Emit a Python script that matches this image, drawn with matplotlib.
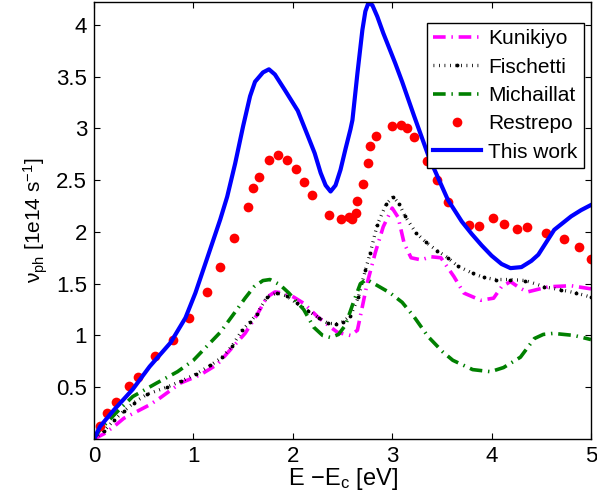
import matplotlib
matplotlib.use("Agg")
import matplotlib.pyplot as plt
import numpy as np

plt.rcParams['font.family'] = ['Liberation Sans', 'DejaVu Sans']
plt.rcParams['mathtext.default'] = 'regular'

# Kunikiyo (magenta dash-dot)
kun_x = [0, 0.1, 0.2, 0.3, 0.46, 0.56, 0.67, 0.87, 1.07, 1.24, 1.37, 1.52, 1.64, 1.74, 1.82,
         1.91, 2.01, 2.11, 2.25, 2.38, 2.45, 2.58, 2.65, 2.70, 2.75, 2.83, 2.91, 3.00, 3.06,
         3.12, 3.19, 3.29, 3.39, 3.49, 3.62, 3.72, 3.89, 4.02, 4.10, 4.19, 4.28, 4.36, 4.57,
         4.80, 5.0]
kun_y = [0, 0.05, 0.12, 0.20, 0.28, 0.33, 0.40, 0.54, 0.62, 0.72, 0.86, 1.02, 1.20, 1.37, 1.42,
         1.41, 1.37, 1.31, 1.18, 1.08, 1.03, 1.00, 1.05, 1.28, 1.51, 1.80, 2.05, 2.23, 2.14,
         1.89, 1.75, 1.73, 1.76, 1.75, 1.57, 1.41, 1.34, 1.36, 1.47, 1.52, 1.46, 1.42, 1.47,
         1.48, 1.45]

# Fischetti (black dotted with dots)
fis_x = [0, 0.1, 0.2, 0.3, 0.4, 0.53, 0.73, 0.88, 1.03, 1.17, 1.29, 1.39, 1.49, 1.57, 1.64,
         1.74, 1.84, 1.94, 2.04, 2.15, 2.26, 2.35, 2.43, 2.50, 2.58, 2.66, 2.73, 2.78, 2.85,
         2.94, 3.01, 3.07, 3.13, 3.24, 3.34, 3.45, 3.56, 3.66, 3.81, 3.92, 4.04, 4.19, 4.34,
         4.53, 4.70, 4.85, 5.0]
fis_y = [0, 0.08, 0.18, 0.27, 0.35, 0.43, 0.50, 0.56, 0.63, 0.71, 0.79, 0.90, 1.05, 1.13, 1.21,
         1.37, 1.41, 1.38, 1.31, 1.24, 1.17, 1.12, 1.11, 1.13, 1.19, 1.37, 1.63, 1.80, 2.07,
         2.27, 2.34, 2.27, 2.15, 1.99, 1.90, 1.82, 1.75, 1.67, 1.60, 1.56, 1.54, 1.54, 1.53,
         1.47, 1.44, 1.41, 1.37]

# Michaillat (green dash-dot)
mic_x = [0, 0.06, 0.23, 0.39, 0.63, 0.84, 1.0, 1.12, 1.27, 1.40, 1.52, 1.61, 1.70, 1.77, 1.87,
         1.96, 2.11, 2.21, 2.30, 2.38, 2.46, 2.53, 2.61, 2.68, 2.74, 2.80, 2.98, 3.10, 3.22,
         3.36, 3.51, 3.61, 3.81, 3.99, 4.12, 4.29, 4.43, 4.52, 4.62, 4.83, 5.0]
mic_y = [0, 0.09, 0.26, 0.41, 0.54, 0.65, 0.76, 0.88, 1.03, 1.20, 1.36, 1.47, 1.53, 1.54, 1.49,
         1.41, 1.25, 1.08, 1.00, 0.98, 1.01, 1.10, 1.32, 1.50, 1.54, 1.51, 1.41, 1.32, 1.18,
         0.99, 0.84, 0.76, 0.67, 0.65, 0.69, 0.79, 0.97, 1.01, 1.02, 1.00, 0.96]

# Restrepo (red dots)
res_x = [0.06, 0.13, 0.22, 0.35, 0.44, 0.61, 0.79, 0.96, 1.14, 1.27, 1.41, 1.55, 1.60, 1.66,
         1.76, 1.85, 1.94, 2.03, 2.11, 2.19, 2.36, 2.48, 2.57, 2.60, 2.64, 2.65, 2.71, 2.76,
         2.78, 2.84, 3.00, 3.09, 3.15, 3.22, 3.35, 3.45, 3.56, 3.77, 3.87, 4.01, 4.12, 4.26,
         4.36, 4.55, 4.73, 4.88, 5.0]
res_y = [0.13, 0.25, 0.36, 0.51, 0.60, 0.80, 0.96, 1.17, 1.42, 1.66, 1.94, 2.24, 2.42, 2.53,
         2.69, 2.74, 2.69, 2.61, 2.48, 2.36, 2.16, 2.12, 2.14, 2.12, 2.18, 2.30, 2.46, 2.67,
         2.83, 2.93, 3.02, 3.03, 3.00, 2.92, 2.68, 2.50, 2.29, 2.07, 2.06, 2.13, 2.08, 2.03,
         2.05, 1.99, 1.93, 1.85, 1.74]

# This work (blue solid)
tw_x = [0, 0.06, 0.2, 0.39, 0.56, 0.77, 0.92, 1.02, 1.14, 1.27, 1.34, 1.42, 1.50, 1.57, 1.62,
        1.70, 1.76, 1.82, 1.92, 2.05, 2.15, 2.22, 2.28, 2.33, 2.38, 2.43, 2.48, 2.53, 2.58,
        2.60, 2.65, 2.70, 2.73, 2.76, 2.80, 2.85, 2.91, 3.03, 3.10, 3.22, 3.37, 3.56, 3.70,
        3.80, 3.90, 4.00, 4.10, 4.19, 4.30, 4.40, 4.47, 4.55, 4.63, 4.80, 4.90, 5.0]
tw_y = [0, 0.12, 0.28, 0.48, 0.70, 0.93, 1.17, 1.41, 1.75, 2.12, 2.34, 2.66, 3.02, 3.31, 3.45,
        3.54, 3.57, 3.52, 3.37, 3.17, 2.93, 2.76, 2.57, 2.45, 2.39, 2.45, 2.60, 2.80, 2.99,
        3.08, 3.53, 3.95, 4.13, 4.21, 4.19, 4.08, 3.92, 3.63, 3.45, 3.12, 2.72, 2.31, 2.10,
        1.98, 1.87, 1.77, 1.69, 1.65, 1.66, 1.72, 1.78, 1.90, 2.02, 2.15, 2.21, 2.26]

fig = plt.figure(figsize=(5.97, 4.99), dpi=100)
ax = fig.add_axes([94/597, 60/499, 497/597, 437/499])

ax.plot(kun_x, kun_y, color=(1, 0, 1), lw=2.6, linestyle=(0, (3.5, 1.6, 0.4, 1.6)), label='Kunikiyo')
ax.plot(fis_x, fis_y, color='k', lw=2.4, linestyle=(0, (0.25, 1.4)), marker='.', markersize=3.5,
        label='Fischetti')
ax.plot(mic_x, mic_y, color=(0, 0.5, 0), lw=2.6, linestyle=(0, (3.5, 1.6, 0.4, 1.6)), label='Michaillat')
ax.plot(res_x, res_y, 'o', color='r', markersize=7, markeredgewidth=0, label='Restrepo')
ax.plot(tw_x, tw_y, color='b', lw=3, label='This work')

ax.set_xlim(0, 5)
ax.set_ylim(0, 4.22)
ax.set_xticks(np.arange(0, 6, 1))
ax.set_yticks([0.5, 1, 1.5, 2, 2.5, 3, 3.5, 4])
ax.set_yticklabels(['0.5', '1', '1.5', '2', '2.5', '3', '3.5', '4'])
ax.tick_params(direction='in', top=True, right=True, length=4, width=0.8, labelsize=16, pad=5)
for s in ax.spines.values():
    s.set_linewidth(1.0)

ax.set_xlabel('E \u2212E$_c$ [eV]', fontsize=17, labelpad=-1)
ax.set_ylabel('\u03bd$_{ph}$ [1e14 s$^{-1}$]', fontsize=15, labelpad=4)

leg = ax.legend(loc='upper right', bbox_to_anchor=(0.986, 0.952), borderaxespad=0,
                fontsize=15, frameon=True, fancybox=False, framealpha=1, edgecolor='k',
                handlelength=2.3, handletextpad=0.35, labelspacing=0.45, borderpad=0.3)
leg.get_frame().set_linewidth(1.0)

fig.savefig('out.png', dpi=100)
